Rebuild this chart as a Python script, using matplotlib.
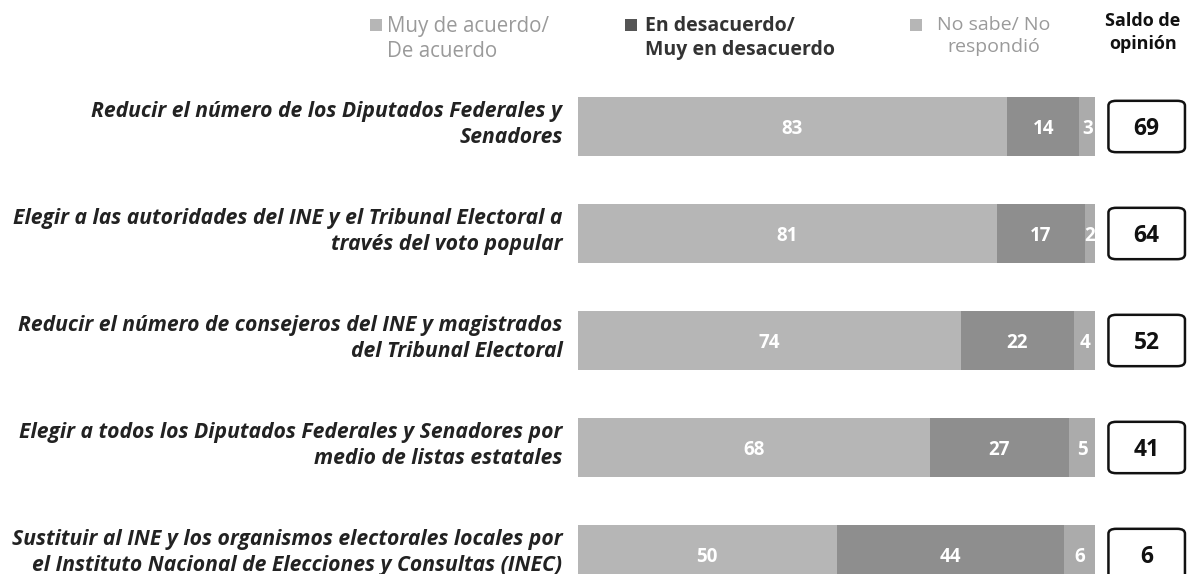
import matplotlib
matplotlib.use("Agg")
import matplotlib.pyplot as plt
from matplotlib.patches import FancyBboxPatch, Rectangle

categories = [
    "Reducir el número de los Diputados Federales y\nSenadores",
    "Elegir a las autoridades del INE y el Tribunal Electoral a\ntravés del voto popular",
    "Reducir el número de consejeros del INE y magistrados\ndel Tribunal Electoral",
    "Elegir a todos los Diputados Federales y Senadores por\nmedio de listas estatales",
    "Sustituir al INE y los organismos electorales locales por\nel Instituto Nacional de Elecciones y Consultas (INEC)",
]
de_acuerdo = [83, 81, 74, 68, 50]
desacuerdo = [14, 17, 22, 27, 44]
no_sabe = [3, 2, 4, 5, 6]
saldo = [69, 64, 52, 41, 6]

series_labels = ["Muy de acuerdo/\nDe acuerdo", "En desacuerdo/\nMuy en desacuerdo", "No sabe/ No\nrespondió"]
saldo_title = "Saldo de\nopinión"
c_light = "#b6b6b6"
c_dark = "#8e8e8e"
c_ns = "#ababab"

W, H = 1188, 574
fig = plt.figure(figsize=(W / 100, H / 100), dpi=100)
x0, x1 = 578, 1095
ax = fig.add_axes([x0 / W, 0, (x1 - x0) / W, 1])
c0, sp = 126.5, 107.0
ax.set_ylim((H - c0) / sp, -c0 / sp)
ax.set_xlim(0, 100)
ax.axis("off")

font = "Open Sans"
ys = list(range(len(categories)))
bh = 0.55
ax.barh(ys, de_acuerdo, height=bh, color=c_light)
ax.barh(ys, desacuerdo, left=de_acuerdo, height=bh, color=c_dark)
lefts = [a + b for a, b in zip(de_acuerdo, desacuerdo)]
ax.barh(ys, no_sabe, left=lefts, height=bh, color=c_ns)

for i in ys:
    segs = [(0, de_acuerdo[i]), (de_acuerdo[i], desacuerdo[i]), (lefts[i], no_sabe[i])]
    for l, v in segs:
        ax.text(l + v / 2, i + 0.02, f"{v}", ha="center", va="center", color="white",
                fontsize=13.5, fontweight="bold", family=font)
    ax.text(-3.0, i - 0.02, categories[i], ha="right", va="center", fontsize=15.2,
            fontweight="bold", style="italic", family=font, color="#222222",
            linespacing=1.33)
    # saldo box
    bx = 102.6
    bw = 14.8
    box = FancyBboxPatch((bx, i - 0.24), bw, 0.48,
                         boxstyle="round,pad=0,rounding_size=1.5",
                         mutation_aspect=0.03,
                         fc="white", ec="#111111", lw=1.8, clip_on=False,
                         transform=ax.transData)
    ax.add_patch(box)
    ax.text(bx + bw / 2, i + 0.02, f"{saldo[i]}", ha="center", va="center", fontsize=16.5,
            fontweight="bold", family=font, color="#111111")

# legend: (square x, text anchor x, label, square colour, text colour, weight, align, size)
leg = [
    (370, 387, series_labels[0], c_light, "#9a9a9a", "normal", "left", 14.8),
    (625, 645, series_labels[1], "#555555", "#333333", "bold", "left", 14),
    (910, 994, series_labels[2], c_light, "#9a9a9a", "normal", "center", 14),
]
for sx, tx, lab, col, tcol, fw, al, fs in leg:
    fig.patches.append(Rectangle((sx / W, 1 - 31 / H), 12 / W, 12 / H,
                                 transform=fig.transFigure, fc=col, ec="none"))
    fig.text(tx / W, 1 - 16 / H, lab, ha=al, va="top", fontsize=fs,
             color=tcol, fontweight=fw, family=font, linespacing=1.25,
             multialignment=al)
fig.text(1143 / W, 1 - 12 / H, saldo_title, ha="center", va="top", fontsize=13,
         color="#111111", fontweight="bold", family=font, linespacing=1.35)

fig.savefig("out.png", dpi=100, facecolor="white")
